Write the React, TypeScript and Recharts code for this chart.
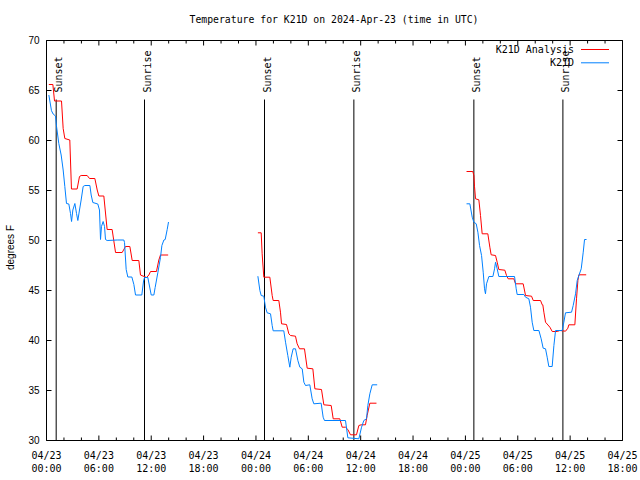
import React from 'react';
import { LineChart, Line, XAxis, YAxis, ReferenceLine, ReferenceArea } from 'recharts';

const TITLE = 'Temperature for K21D on 2024-Apr-23 (time in UTC)';
const Y_LABEL = 'degrees F';
const SERIES_NAMES = ['K21D Analysis', 'K21D'];
const SERIES_COLORS = ['#ff0000', '#0080ff'];

const X_DOMAIN = [0, 66];
const xTickHours = [0, 2, 4, 6, 8, 10, 12, 14, 16, 18, 20, 22, 24, 26, 28, 30, 32, 34, 36, 38, 40, 42, 44, 46, 48, 50, 52, 54, 56, 58, 60, 62, 64, 66];
const xMajorDates = ['04/23', '04/23', '04/23', '04/23', '04/24', '04/24', '04/24', '04/24', '04/25', '04/25', '04/25', '04/25'];
const xMajorTimes = ['00:00', '06:00', '12:00', '18:00', '00:00', '06:00', '12:00', '18:00', '00:00', '06:00', '12:00', '18:00'];
const yTicks = [30, 35, 40, 45, 50, 55, 60, 65, 70];

const sunEventNames = ['Sunset', 'Sunrise', 'Sunset', 'Sunrise', 'Sunset', 'Sunrise'];
const sunEventHours = [1.11, 11.23, 24.98, 35.22, 48.97, 59.17];

// K21D Analysis (hours since 04/23 00:00 UTC, degrees F)
const analysisSeg1 = [
  [0.27, 65.6], [0.73, 65.6], [0.92, 63.95], [1.72, 63.95], [1.91, 61.2], [2.1, 60.2], [2.67, 60.05],
  [2.86, 55.15], [3.51, 55.15], [3.78, 56.4], [3.97, 56.5], [4.66, 56.5], [4.93, 56.2], [5.54, 56.2],
  [5.81, 55.05], [6.0, 54.45], [6.57, 54.45], [6.84, 52.05], [6.95, 51.1], [7.52, 51.1], [7.91, 48.8],
  [8.67, 48.8], [9.05, 49.4], [9.55, 49.4], [9.82, 48.0], [10.58, 48.0], [10.77, 46.55], [11.46, 46.3],
  [11.73, 46.55], [11.92, 46.9], [12.6, 46.9], [12.87, 48.05], [13.06, 48.55], [13.94, 48.55],
];
const analysisSeg2 = [
  [24.22, 50.77], [24.6, 50.77], [24.71, 48.67], [24.9, 46.33], [25.59, 46.33], [25.86, 44.5], [25.97, 44.0],
  [26.62, 44.0], [26.81, 42.83], [26.93, 41.67], [27.5, 41.6], [27.77, 40.67], [27.96, 40.5], [28.53, 40.43],
  [28.72, 39.67], [28.99, 39.17], [29.56, 39.17], [29.87, 37.23], [30.52, 37.17], [30.75, 35.17], [31.51, 35.1],
  [31.78, 33.57], [32.62, 33.5], [32.85, 32.17], [33.61, 32.17], [33.88, 31.33], [34.26, 31.33], [34.53, 31.1],
  [34.83, 30.57], [35.52, 30.57], [35.79, 31.5], [36.06, 31.57], [36.55, 31.57], [36.74, 32.5], [37.05, 33.73],
  [37.81, 33.73],
];
const analysisSeg3 = [
  [48.13, 56.9], [48.85, 56.9], [48.97, 56.5], [49.04, 55.43], [49.16, 54.17], [49.54, 54.07], [49.73, 52.5],
  [49.92, 50.67], [50.57, 50.67], [50.8, 49.33], [50.95, 48.57], [51.45, 48.5], [51.64, 47.83], [51.83, 47.1],
  [52.52, 47.03], [52.71, 46.5], [52.9, 46.17], [53.55, 46.17], [53.74, 45.67], [54.62, 45.67], [54.89, 44.5],
  [55.58, 44.43], [55.77, 44.0], [56.61, 44.0], [56.8, 43.57], [56.87, 43.57], [56.99, 42.83], [57.18, 41.83],
  [57.68, 41.33], [57.95, 40.9], [58.52, 40.9], [58.82, 41.0], [59.47, 40.93], [59.74, 41.23], [59.85, 41.57],
  [60.54, 41.57], [60.73, 44.17], [60.89, 46.0], [61.0, 46.57], [61.84, 46.57],
];

// K21D observations
const obsSeg1 = [
  [0.27, 64.55], [0.57, 62.98], [0.76, 62.65], [1.03, 62.45], [1.15, 61.4], [1.41, 59.7], [1.68, 58.55],
  [1.91, 57.05], [2.1, 55.4], [2.29, 53.7], [2.56, 53.65], [2.75, 52.7], [2.87, 51.9], [3.02, 53.05],
  [3.25, 53.7], [3.44, 52.7], [3.59, 52.0], [3.78, 53.05], [3.97, 54.05], [4.2, 55.4], [4.39, 55.5],
  [4.97, 55.5], [5.12, 54.55], [5.31, 53.8], [5.88, 53.65], [6.07, 53.05], [6.19, 50.1], [6.3, 51.4],
  [6.49, 51.9], [6.65, 51.4], [6.76, 50.1], [6.95, 50.0], [8.1, 50.05], [8.86, 50.05], [8.94, 49.8],
  [9.13, 47.1], [9.32, 46.35], [9.78, 46.35], [10.01, 45.6], [10.2, 44.55], [10.92, 44.55], [11.12, 45.95],
  [11.23, 46.3], [11.61, 46.3], [11.8, 45.45], [12.0, 44.55], [12.3, 44.55], [12.45, 45.3], [12.76, 46.8],
  [13.06, 48.3], [13.22, 49.5], [13.45, 50.05], [13.6, 50.1], [13.83, 51.1], [13.98, 51.85],
];
const obsSeg2 = [
  [24.22, 46.43], [24.45, 45.0], [24.6, 44.5], [24.9, 44.43], [25.09, 43.33], [25.28, 42.77], [25.67, 42.67],
  [25.86, 41.5], [25.97, 40.97], [27.19, 40.97], [27.39, 39.83], [27.65, 38.5], [27.88, 37.33], [28.04, 38.33],
  [28.26, 39.17], [28.53, 39.17], [28.8, 38.0], [29.03, 37.33], [29.3, 37.17], [29.49, 35.83], [29.68, 35.5],
  [30.17, 35.57], [30.44, 34.17], [30.63, 33.67], [31.47, 33.73], [31.7, 32.33], [31.85, 32.0], [34.26, 32.0],
  [34.53, 30.27], [35.79, 30.17], [36.1, 31.33], [36.36, 32.0], [36.67, 32.17], [36.82, 33.5], [37.05, 34.67],
  [37.32, 35.57], [37.89, 35.57],
];
const obsSeg3 = [
  [48.13, 53.67], [48.51, 53.67], [48.78, 52.33], [48.97, 51.83], [49.24, 51.67], [49.43, 50.83], [49.62, 49.5],
  [49.85, 48.5], [50.04, 46.83], [50.19, 45.17], [50.3, 44.67], [50.42, 45.67], [50.69, 46.4], [51.15, 46.4],
  [51.34, 47.17], [51.45, 47.83], [51.64, 47.17], [51.83, 46.4], [53.63, 46.4], [53.82, 45.17], [53.93, 44.6],
  [54.7, 44.6], [54.89, 44.33], [55.27, 44.17], [55.46, 43.33], [55.65, 41.83], [55.84, 41.0], [56.42, 41.0],
  [56.68, 40.17], [56.91, 39.23], [57.18, 39.17], [57.37, 38.33], [57.56, 37.4], [57.94, 37.4], [58.14, 39.5],
  [58.33, 41.0], [59.09, 41.0], [59.28, 41.83], [59.47, 42.77], [60.16, 42.83], [60.35, 43.5], [60.62, 44.67],
  [60.81, 46.0], [61.0, 46.5], [61.27, 47.17], [61.5, 48.83], [61.65, 50.1], [61.88, 50.1],
];

type Pt = { h: number; t: number | null };
const buildSeries = (segs: number[][][]): Pt[] => {
  const out: Pt[] = [];
  segs.forEach((seg, i) => {
    if (i > 0) {
      const prev = segs[i - 1];
      out.push({ h: (prev[prev.length - 1][0] + seg[0][0]) / 2, t: null });
    }
    seg.forEach(([h, t]) => out.push({ h, t }));
  });
  return out;
};

const analysisData = buildSeries([analysisSeg1, analysisSeg2, analysisSeg3]);
const obsData = buildSeries([obsSeg1, obsSeg2, obsSeg3]);

const W = 640;
const H = 480;
const MARGIN = { top: 40.5, right: 17.5, bottom: 0, left: 6.5 };
const Y_AXIS_W = 40;
const X_AXIS_H = 39.5;
const PLOT_W = W - MARGIN.left - MARGIN.right - Y_AXIS_W;
const PLOT_H = H - MARGIN.top - MARGIN.bottom - X_AXIS_H;
const MONO = '"DejaVu Sans Mono", monospace';
const SANS = '"Liberation Sans", Arial, sans-serif';

const XTick = (props: any) => {
  const { x, y, payload } = props;
  const h = payload.value as number;
  const major = h % 6 === 0;
  const len = major ? 5 : 3;
  const idx = Math.round(h / 6);
  return (
    <g>
      <line x1={x} y1={y} x2={x} y2={y - len} stroke="#000" strokeWidth={1} />
      <line x1={x} y1={y - PLOT_H} x2={x} y2={y - PLOT_H + len} stroke="#000" strokeWidth={1} />
      {major && (
        <text x={x} y={y + 18} textAnchor="middle" fontFamily={MONO} fontSize={10} fill="#000">
          {xMajorDates[idx]}
        </text>
      )}
      {major && (
        <text x={x} y={y + 31} textAnchor="middle" fontFamily={MONO} fontSize={10} fill="#000">
          {xMajorTimes[idx]}
        </text>
      )}
    </g>
  );
};

const YTick = (props: any) => {
  const { x, y, payload } = props;
  return (
    <g>
      <line x1={x} y1={y} x2={x + 5} y2={y} stroke="#000" strokeWidth={1} />
      <line x1={x + PLOT_W} y1={y} x2={x + PLOT_W - 5} y2={y} stroke="#000" strokeWidth={1} />
      <text x={x - 7} y={y + 3.5} textAnchor="end" fontFamily={SANS} fontSize={10} fill="#000">
        {payload.value}
      </text>
    </g>
  );
};

const sunShape = (name: string) => (p: any) => {
  const top = Math.min(p.y1, p.y2);
  const bottom = Math.max(p.y1, p.y2);
  return (
    <g>
      <line x1={p.x1} y1={top + 59} x2={p.x1} y2={bottom} stroke="#000" strokeWidth={1} />
      <text
        transform={`translate(${p.x1 + 6},${top + 52}) rotate(-90)`}
        textAnchor="start"
        fontFamily={MONO}
        fontSize={10}
        fill="#000"
      >
        {name}
      </text>
    </g>
  );
};

export default function App() {
  return (
    <div style={{ position: 'absolute', left: 0, top: 0, width: W, height: H, background: '#fff' }}>
      <LineChart width={W} height={H} margin={MARGIN}>
        <XAxis
          dataKey="h"
          type="number"
          domain={X_DOMAIN}
          ticks={xTickHours}
          interval={0}
          tickSize={0}
          tickMargin={0}
          axisLine={false}
          tickLine={false}
          tick={<XTick />}
          height={X_AXIS_H}
          allowDataOverflow
        />
        <YAxis
          type="number"
          domain={[30, 70]}
          ticks={yTicks}
          interval={0}
          tickSize={0}
          tickMargin={0}
          axisLine={false}
          tickLine={false}
          tick={<YTick />}
          width={Y_AXIS_W}
          allowDataOverflow
        />
        <ReferenceArea x1={0} x2={66} y1={30} y2={70} fill="none" fillOpacity={0} stroke="#000" strokeWidth={1} />
        {sunEventHours.map((h, i) => (
          <ReferenceLine key={i} x={h} stroke="#000" shape={sunShape(sunEventNames[i])} />
        ))}
        <Line
          data={analysisData}
          dataKey="t"
          name={SERIES_NAMES[0]}
          type="linear"
          stroke={SERIES_COLORS[0]}
          strokeWidth={1}
          dot={false}
          activeDot={false}
          connectNulls={false}
          isAnimationActive={false}
        />
        <Line
          data={obsData}
          dataKey="t"
          name={SERIES_NAMES[1]}
          type="linear"
          stroke={SERIES_COLORS[1]}
          strokeWidth={1}
          dot={false}
          activeDot={false}
          connectNulls={false}
          isAnimationActive={false}
        />
      </LineChart>
      <svg
        width={W}
        height={H}
        style={{ position: 'absolute', left: 0, top: 0, pointerEvents: 'none' }}
      >
        <text x={334} y={23} textAnchor="middle" fontFamily={MONO} fontSize={9.8} fill="#000">
          {TITLE}
        </text>
        <text
          transform="translate(13.5,247.5) rotate(-90)"
          textAnchor="middle"
          fontFamily={SANS}
          fontSize={10}
          fill="#000"
        >
          {Y_LABEL}
        </text>
        {SERIES_NAMES.map((name, i) => (
          <g key={name}>
            <text x={574} y={53 + i * 13.3} textAnchor="end" fontFamily={MONO} fontSize={10} fill="#000">
              {name}
            </text>
            <line x1={581} y1={49.5 + i * 13.3} x2={609} y2={49.5 + i * 13.3} stroke={SERIES_COLORS[i]} strokeWidth={1} />
          </g>
        ))}
      </svg>
    </div>
  );
}
